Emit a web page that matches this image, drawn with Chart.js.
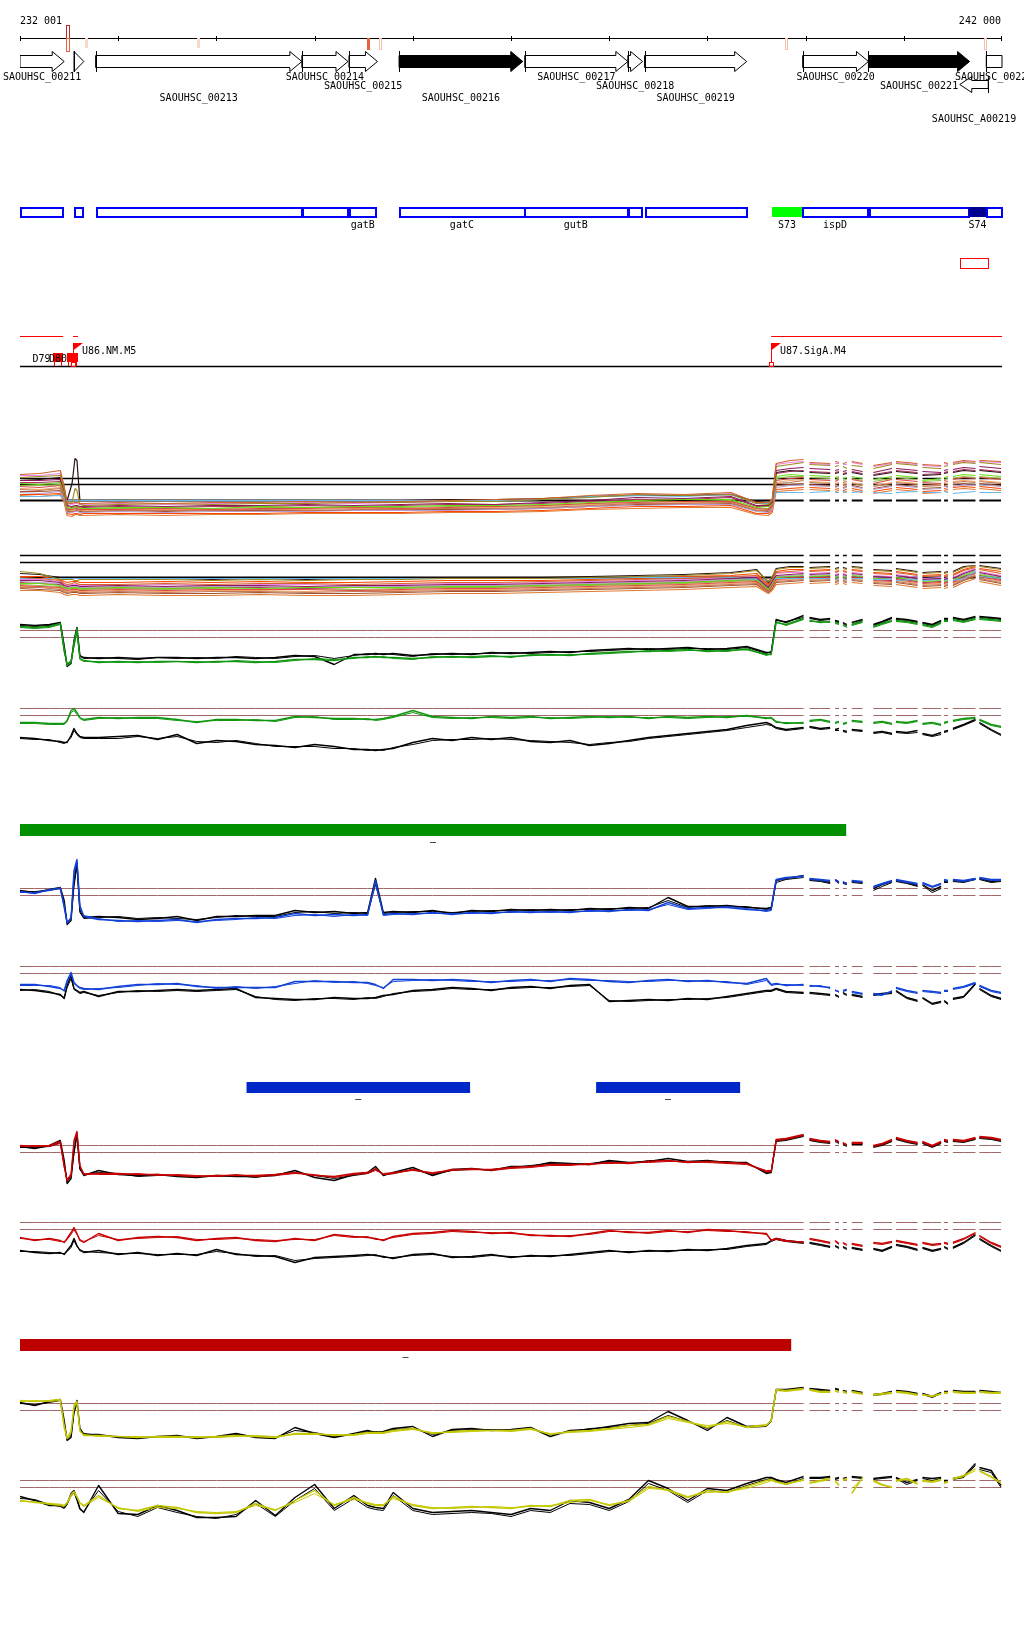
<!DOCTYPE html>
<html><head><meta charset="utf-8"><title>Genome browser tracks</title>
<script src="https://cdn.jsdelivr.net/npm/chart.js@4.4.1/dist/chart.umd.min.js"></script>
<style>
html,body{margin:0;padding:0;background:#ffffff;}
#wrap{position:relative;width:1024px;height:1640px;overflow:hidden;background:#ffffff;}
#wrap canvas{position:absolute;left:0;}
</style></head><body><div id="wrap"></div>
<script>
// ================= DATA =================
const viewStart = 232000, viewEnd = 242000;

// ruler
const rulerTicks = [232000,233000,234000,235000,236000,237000,238000,239000,240000,241000,242000];
const rulerLeftLabel = '232 001', rulerRightLabel = '242 000';
const markStarts = [232470,232660,233800,235530,235660,239790,241820];
const markEnds   = [232505,232690,233830,235560,235690,239820,241850];
const markColors = ['#e8643c','#f8d8c8','#f8d8c8','#e8643c','#f4c0b0','#f4c0b0','#f4c0b0'];
const markFilled = [false,true,true,true,false,false,false];
const markTall   = [true,false,false,false,false,false,false];

// genes
const geneNames  = ['SAOUHSC_00211','','SAOUHSC_00213','SAOUHSC_00214','SAOUHSC_00215','SAOUHSC_00216','SAOUHSC_00217','SAOUHSC_00218','SAOUHSC_00219','SAOUHSC_00220','SAOUHSC_00221','SAOUHSC_00222','SAOUHSC_A00219'];
const geneStarts = [231900,232550,232770,234870,235350,235860,237140,238190,238360,239970,240640,241840,241570];
const geneEnds   = [232450,232650,234870,235340,235640,237120,238190,238340,239400,240640,241670,242300,241860];
const geneStrand = [1,1,1,1,1,1,1,1,1,1,1,1,-1];
const geneFilled = [0,0,0,0,0,1,0,0,0,0,1,0,0];
const geneLabelRow = [0,0,2,0,1,2,0,1,2,0,1,0,3];

// feature boxes
const boxStarts = [231900,232550,232770,234870,235350,235860,237130,238190,238360,239655,239965,240645,241665,241835];
const boxEnds   = [232440,232640,234870,235340,235630,237140,238190,238330,239400,239965,240635,241665,241835,242300];
const boxFills  = ['','','','','','','','','','#00ff00','','','#000090',''];
const boxLabels = ['','','','','gatB','gatC','gutB','','','S73','ispD','','S74',''];
const redBoxStart = 241570, redBoxEnd = 241855;

// regulatory features
const redLineStarts = [232000,232540,239650];
const redLineEnds   = [232440,232590,242000];
const flagPos    = [232540,239650];
const flagLabels = ['U86.NM.M5','U87.SigA.M4'];
const termStarts = [232336,232479];
const termEnds   = [232438,232591];
const termLabelPos = [232220,232387];
const termLabels   = ['D79','D80'];

// bars
const greenBarStarts = [232000], greenBarEnds = [240410];
const blueBarStarts  = [234310,237870], blueBarEnds = [236580,239330];
const redBarStarts   = [232000], redBarEnds = [239850];
const barLabel = '\u2013';

// probe positions (bp)
const positions = [
 232000,232150,232300,232410,232450,232480,232520,232550,232580,232610,232650,
 232800,233000,233200,233400,233600,233800,234000,234200,234400,234600,
 234800,235000,235200,235400,235540,235620,235700,235800,236000,236200,
 236400,236600,236800,237000,237200,237400,237600,237800,238000,238200,
 238400,238600,238800,239000,239200,239400,239600,
 239650,239700,239800,239980,
 240040,240150,240250,240300,240340,240380,240420,240470,240580,240690,240780,240880,240920,241030,241140,241190,241290,241380,241410,241450,241500,241610,241730,241770,241890,241990
];
const multiPositions = [
 232000,232200,232410,232450,232480,232530,232560,232580,232610,232650,
 233000,233480,233960,234440,234920,235400,235880,236360,236840,237320,237800,238280,238760,239240,
 239500,239620,239660,239700,239840,239980,
 240040,240250,240300,240340,240380,240420,240470,240580,240690,240880,240920,241140,241190,241380,241410,241450,241500,241610,241730,241770,241990
];
const gaps = [[239990,240035],[240255,240295],[240345,240375],[240425,240465],[240585,240685],[240885,240915],[241145,241185],[241385,241405],[241455,241495],[241735,241765]];

// reference levels
const colorRefLevels = [10.0, 9.3];
const multiARefLevels = [10.0, 9.4, 7.8];
const multiBRefLevels = [10.0, 9.3, 7.8];

// ---- green A
const greenA_k1 = [10.6,10.5,10.6,10.8,8.5,6.4,6.7,9.0,10.3,7.5,7.3,
 7.2,7.3,7.2,7.3,7.3,7.2,7.3,7.3,7.2,7.3, 7.5,7.4,6.6,7.6,7.6,7.7,7.6,7.7,7.5,7.6, 7.7,7.6,7.8,7.7,7.8,7.9,7.8,8.0,8.1,8.2, 8.1,8.2,8.3,8.1,8.2,8.4,7.8,
 7.8,11.1,10.8,11.5,
 11.3,11.1,11.2,11.0,10.9,10.8,10.6,10.8,11.1,10.6,10.9,11.3,11.2,11.1,10.9,10.8,10.6,11.0,11.2,11.2,11.3,11.1,11.4,11.4,11.3,11.2];
const greenA_k2 = [10.5,10.4,10.5,10.7,8.0,6.6,7.0,8.5,10.0,7.4,7.2,
 7.3,7.2,7.1,7.3,7.2,7.3,7.2,7.4,7.3,7.2, 7.4,7.5,7.2,7.5,7.7,7.6,7.7,7.6,7.4,7.7, 7.6,7.7,7.7,7.8,7.7,7.8,7.9,7.9,8.0,8.1, 8.2,8.1,8.2,8.2,8.1,8.3,7.7,
 7.9,11.0,10.9,11.3,
 11.2,11.0,11.1,10.9,10.8,10.7,10.5,10.6,11.0,10.5,10.8,11.2,11.1,11.0,10.8,10.7,10.5,10.9,11.1,11.1,11.2,11.0,11.3,11.3,11.2,11.1];
const greenA_c1 = [10.4,10.3,10.4,10.7,8.2,6.5,6.8,8.8,10.2,7.2,7.0,
 6.8,6.9,6.8,6.9,6.9,6.8,6.9,6.9,6.8,6.9, 7.1,7.1,7.0,7.3,7.3,7.4,7.3,7.3,7.2,7.3, 7.4,7.3,7.4,7.4,7.5,7.6,7.5,7.7,7.8,7.9, 7.9,8.0,8.1,7.9,8.0,8.1,7.6,
 7.6,10.8,10.6,11.2,
 11.0,10.8,10.9,10.8,10.7,10.6,10.4,10.6,10.9,10.4,10.7,11.0,11.0,10.9,10.7,10.6,10.4,10.8,11.0,11.0,11.1,10.9,11.2,11.2,11.1,11.0];
const greenA_c2 = [10.3,10.2,10.3,10.6,7.8,6.7,6.9,8.4,9.9,7.1,6.9,
 6.9,6.8,6.9,6.8,6.9,6.9,6.8,7.0,6.9,6.8, 7.0,7.2,7.1,7.2,7.4,7.3,7.4,7.2,7.1,7.4, 7.3,7.4,7.5,7.3,7.6,7.5,7.6,7.6,7.7,7.8, 8.0,7.9,8.0,8.0,7.9,8.2,7.5,
 7.7,10.9,10.5,11.1,
 10.9,10.9,10.8,10.7,10.6,10.5,10.3,10.5,10.8,10.3,10.6,10.9,10.9,10.8,10.6,10.5,10.3,10.7,10.9,10.9,11.0,10.8,11.1,11.1,11.0,10.9];

// ---- green B
const greenB_c1 = [8.6,8.6,8.5,8.5,8.5,8.8,9.8,10.0,9.6,9.1,8.9,
 9.1,9.0,9.1,9.1,8.9,8.6,8.9,8.9,8.8,8.8, 9.2,9.1,9.0,9.0,8.9,8.9,9.0,9.2,9.8,9.2, 9.1,9.0,9.2,9.1,9.2,9.0,9.1,9.2,9.1,9.2, 9.0,9.2,9.1,9.2,9.1,9.3,9.0,
 9.1,8.7,8.5,8.6,
 8.8,8.9,8.7,8.6,8.7,8.5,8.6,8.8,8.7,8.6,8.7,8.5,8.7,8.6,8.8,8.5,8.6,8.4,8.6,8.7,8.8,9.0,9.1,8.9,8.4,8.2];
const greenB_c2 = [8.5,8.5,8.4,8.4,8.4,8.7,9.6,9.8,9.4,9.0,8.8,
 9.0,9.1,9.0,9.0,8.8,8.7,8.8,8.8,8.9,8.7, 9.1,9.2,8.9,8.9,9.0,8.8,8.9,9.1,9.6,9.1, 9.0,9.1,9.1,9.0,9.1,9.1,9.0,9.1,9.2,9.1, 9.1,9.1,9.0,9.1,9.2,9.2,9.1,
 9.0,8.6,8.6,8.5,
 8.7,8.8,8.6,8.5,8.6,8.4,8.5,8.7,8.6,8.5,8.6,8.4,8.6,8.5,8.7,8.4,8.5,8.3,8.5,8.6,8.7,8.9,9.0,8.8,8.3,8.1];
const greenB_k1 = [7.1,7.0,6.8,6.7,6.6,6.6,7.3,8.0,7.5,7.2,7.1,
 7.1,7.2,7.3,6.9,7.4,6.5,6.8,6.7,6.4,6.3, 6.1,6.4,6.2,5.9,5.9,5.8,5.9,6.0,6.6,7.0, 6.8,7.1,6.9,7.1,6.7,6.6,6.8,6.3,6.5,6.8, 7.1,7.3,7.5,7.7,7.9,8.3,8.6,
 8.4,8.1,7.9,8.1,
 8.2,8.0,8.1,7.9,8.0,7.8,7.7,7.9,7.8,7.6,7.7,7.5,7.7,7.6,7.8,7.5,7.3,7.6,7.7,7.8,8.0,8.4,8.9,8.6,7.9,7.4];
const greenB_k2 = [7.0,6.9,6.9,6.6,6.5,6.7,7.1,7.8,7.4,7.1,7.0,
 7.0,7.0,7.2,7.0,7.2,6.7,6.6,6.8,6.5,6.2, 6.2,6.2,6.0,6.0,5.8,5.9,5.8,6.1,6.4,6.8, 6.9,6.9,7.0,6.9,6.8,6.7,6.6,6.4,6.6,6.7, 7.0,7.2,7.4,7.6,7.8,8.1,8.4,
 8.3,8.0,7.8,8.0,
 8.1,7.9,8.0,7.8,7.8,7.7,7.6,7.8,7.7,7.5,7.6,7.4,7.6,7.5,7.6,7.4,7.2,7.4,7.6,7.7,7.9,8.3,8.8,8.5,7.8,7.3];

// ---- blue A
const blueA_k1 = [9.8,9.6,9.9,10.1,8.8,6.4,6.8,10.8,12.6,7.8,7.1,
 7.2,7.1,6.9,7.0,7.2,6.8,7.2,7.2,7.3,7.3, 7.8,7.6,7.7,7.5,7.6,11.0,7.6,7.7,7.6,7.8, 7.5,7.8,7.7,7.9,7.8,7.9,7.8,8.0,7.9,8.1, 8.0,9.1,8.2,8.2,8.3,8.1,8.0,
 8.1,10.8,11.0,11.3,
 10.9,10.8,10.6,10.9,10.6,10.6,10.5,10.7,10.6,10.0,10.4,10.7,10.8,10.6,10.3,10.4,9.8,10.2,10.7,10.7,10.8,10.7,11.0,11.0,10.7,10.8];
const blueA_k2 = [9.7,9.7,9.8,10.0,8.4,6.6,7.0,10.2,12.2,7.6,7.0,
 7.1,7.2,7.0,7.1,7.0,6.9,7.1,7.3,7.2,7.2, 7.6,7.7,7.5,7.6,7.5,10.4,7.5,7.6,7.7,7.7, 7.6,7.7,7.8,7.8,7.9,7.8,7.9,7.9,8.0,8.0, 8.1,8.8,8.1,8.3,8.2,8.2,7.9,
 8.0,10.6,10.9,11.1,
 10.8,10.7,10.5,10.8,10.5,10.5,10.4,10.6,10.5,9.8,10.2,10.6,10.7,10.5,10.2,10.3,9.6,10.0,10.6,10.6,10.7,10.6,10.9,10.9,10.6,10.7];
const blueA_c1 = [9.7,9.5,9.9,10.0,8.3,6.6,7.0,11.8,12.9,8.3,7.2,
 6.9,6.8,6.7,6.8,6.9,6.6,6.9,7.0,7.0,7.1, 7.5,7.3,7.4,7.3,7.4,10.8,7.4,7.5,7.4,7.6, 7.4,7.6,7.5,7.7,7.6,7.7,7.6,7.8,7.7,7.9, 7.8,8.6,8.0,8.1,8.1,7.9,7.8,
 7.9,10.9,11.1,11.2,
 11.0,10.9,10.8,10.9,10.7,10.7,10.5,10.8,10.7,10.2,10.5,10.8,10.9,10.7,10.5,10.6,10.2,10.5,10.9,10.8,10.9,10.8,11.0,11.1,10.9,10.9];
const blueA_c2 = [9.6,9.6,9.8,10.1,8.0,6.5,7.2,11.4,12.7,8.0,7.3,
 7.0,6.7,6.8,6.7,6.8,6.7,6.8,6.9,7.1,7.0, 7.3,7.4,7.2,7.4,7.3,10.6,7.3,7.4,7.5,7.5, 7.5,7.5,7.6,7.6,7.7,7.6,7.7,7.7,7.8,7.8, 7.9,8.4,7.9,8.0,8.2,8.0,7.7,
 7.8,10.8,11.0,11.3,
 10.9,10.8,10.7,10.8,10.6,10.6,10.4,10.7,10.6,10.1,10.4,10.7,10.8,10.6,10.4,10.5,10.1,10.4,10.8,10.7,10.8,10.7,10.9,11.0,10.8,10.8];

// ---- blue B
const blueB_c1 = [8.2,8.2,8.0,7.8,7.6,8.6,9.4,8.4,8.1,7.9,7.8,
 7.7,8.0,8.2,8.2,8.3,8.0,7.9,7.9,7.9,7.9, 8.5,8.5,8.5,8.4,8.4,8.2,7.8,8.7,8.7,8.6, 8.7,8.6,8.4,8.6,8.7,8.5,8.8,8.7,8.5,8.4, 8.6,8.7,8.5,8.6,8.4,8.3,8.8,
 8.2,8.3,8.1,8.2,
 8.1,8.0,7.9,7.6,7.5,7.6,7.7,7.5,7.3,7.3,7.2,7.5,7.9,7.6,7.4,7.6,7.5,7.4,7.6,7.6,7.8,8.0,8.4,8.1,7.6,7.4];
const blueB_c2 = [8.1,8.1,8.1,7.9,7.5,8.4,9.2,8.3,8.0,7.8,7.7,
 7.8,7.9,8.1,8.3,8.2,8.1,7.8,8.0,7.8,8.0, 8.3,8.6,8.4,8.5,8.3,8.1,7.9,8.5,8.6,8.7, 8.6,8.5,8.5,8.5,8.6,8.6,8.7,8.6,8.6,8.5, 8.5,8.6,8.6,8.5,8.5,8.2,8.6,
 8.1,8.2,8.2,8.1,
 8.0,8.1,7.8,7.7,7.4,7.5,7.6,7.4,7.2,7.2,7.1,7.6,7.8,7.5,7.3,7.5,7.4,7.3,7.5,7.5,7.7,7.9,8.3,8.0,7.5,7.3];
const blueB_k1 = [7.7,7.6,7.4,7.2,6.8,8.1,9.1,7.8,7.6,7.4,7.5,
 7.0,7.5,7.5,7.6,7.7,7.6,7.7,7.8,6.9,6.8, 6.7,6.7,6.9,6.8,6.8,6.9,7.1,7.2,7.6,7.7, 7.9,7.8,7.6,7.9,8.0,7.8,8.1,8.2,6.5,6.6, 6.7,6.6,6.8,6.7,7.0,7.3,7.6,
 7.6,7.8,7.5,7.4,
 7.4,7.3,7.2,7.2,7.0,7.4,7.2,7.2,7.0,7.2,7.3,7.4,7.6,6.9,6.6,6.9,6.3,6.5,6.6,6.3,6.8,7.0,8.3,7.8,7.1,6.8];
const blueB_k2 = [7.6,7.7,7.5,7.1,6.9,7.9,8.8,7.7,7.5,7.3,7.4,
 7.1,7.4,7.6,7.5,7.6,7.5,7.6,7.7,7.0,6.7, 6.6,6.8,6.8,6.7,6.9,6.8,7.0,7.3,7.5,7.6, 7.8,7.7,7.7,7.8,7.9,7.9,8.0,8.1,6.6,6.5, 6.6,6.7,6.7,6.8,6.9,7.2,7.5,
 7.5,7.7,7.4,7.3,
 7.3,7.2,7.1,7.1,6.9,7.3,7.1,7.1,6.9,7.1,7.2,7.3,7.5,6.8,6.5,6.8,6.2,6.4,6.5,6.2,6.7,6.9,8.2,7.7,7.0,6.7];

// ---- red A
const redA_k1 = [9.9,9.7,10.0,10.5,8.5,6.2,6.7,9.5,11.2,7.7,7.0,
 7.5,7.1,7.0,7.1,6.9,6.8,7.0,6.9,6.9,7.0, 7.5,6.8,6.5,7.1,7.3,7.9,7.0,7.3,7.8,7.0, 7.6,7.7,7.5,7.9,7.9,8.3,8.2,8.1,8.5,8.3, 8.4,8.7,8.4,8.5,8.3,8.3,7.2,
 7.3,10.5,10.6,11.0,
 10.6,10.4,10.3,10.5,10.3,10.2,10.0,10.2,10.2,9.9,10.1,10.5,10.7,10.4,10.2,10.3,9.9,10.3,10.5,10.4,10.5,10.4,10.7,10.8,10.7,10.5];
const redA_k2 = [9.8,9.8,9.9,10.3,8.2,6.4,6.9,9.2,10.9,7.6,7.1,
 7.3,7.2,6.9,7.0,7.0,6.9,6.9,7.0,6.8,7.1, 7.3,7.0,6.7,7.0,7.2,7.6,7.1,7.2,7.6,7.1, 7.5,7.6,7.6,7.8,8.0,8.2,8.1,8.2,8.4,8.2, 8.5,8.5,8.3,8.4,8.4,8.2,7.3,
 7.4,10.4,10.5,10.9,
 10.5,10.3,10.2,10.4,10.2,10.1,9.9,10.1,10.1,9.8,10.0,10.4,10.6,10.3,10.1,10.2,9.8,10.2,10.4,10.3,10.4,10.3,10.6,10.7,10.6,10.4];
const redA_c1 = [10.0,9.9,10.0,10.4,8.0,6.5,7.0,10.5,11.4,8.0,7.1,
 7.2,7.2,7.1,7.1,7.0,6.9,7.0,7.0,7.0,7.1, 7.3,7.0,6.9,7.2,7.3,7.7,7.1,7.2,7.6,7.2, 7.6,7.6,7.6,7.8,7.9,8.1,8.1,8.1,8.3,8.2, 8.4,8.5,8.3,8.4,8.3,8.2,7.4,
 7.4,10.6,10.7,11.1,
 10.7,10.5,10.4,10.6,10.4,10.3,10.1,10.3,10.3,10.0,10.2,10.6,10.8,10.5,10.3,10.4,10.0,10.4,10.6,10.5,10.6,10.5,10.8,10.9,10.8,10.6];
const redA_c2 = [9.9,10.0,9.9,10.2,7.8,6.6,7.2,10.2,11.2,7.9,7.2,
 7.1,7.1,7.2,7.0,7.1,7.0,6.9,7.1,6.9,7.0, 7.2,7.1,6.8,7.1,7.2,7.5,7.2,7.3,7.5,7.3, 7.5,7.7,7.5,7.7,7.8,8.0,8.0,8.2,8.2,8.3, 8.3,8.4,8.4,8.3,8.2,8.1,7.5,
 7.5,10.5,10.6,11.0,
 10.6,10.4,10.3,10.5,10.3,10.2,10.0,10.2,10.2,9.9,10.1,10.5,10.7,10.4,10.2,10.3,9.9,10.3,10.5,10.4,10.5,10.4,10.7,10.8,10.7,10.5];

// ---- red B
const redB_c1 = [8.5,8.2,8.4,8.2,8.0,8.4,9.0,9.5,8.9,8.2,8.0,
 8.9,8.2,8.5,8.6,8.5,8.2,8.4,8.5,8.2,8.1, 8.4,8.2,8.8,8.6,8.5,8.4,8.2,8.6,8.9,9.0, 9.2,9.1,8.9,9.0,8.7,8.7,8.6,8.9,9.2,9.0, 9.0,9.2,9.0,9.3,9.2,9.0,8.9,
 8.2,8.4,8.2,8.0,
 8.4,8.2,8.0,8.2,7.9,8.0,7.8,7.9,7.7,8.0,7.9,8.1,8.2,8.0,7.8,8.0,7.8,7.9,8.0,7.9,8.0,8.4,9.0,8.7,8.0,7.6];
const redB_c2 = [8.4,8.3,8.3,8.1,8.1,8.3,8.8,9.3,8.8,8.3,8.1,
 8.7,8.3,8.4,8.5,8.6,8.3,8.3,8.4,8.3,8.2, 8.3,8.3,8.7,8.5,8.6,8.3,8.3,8.5,8.8,8.9, 9.1,9.0,9.0,8.9,8.8,8.6,8.7,8.8,9.1,9.1, 8.9,9.1,9.1,9.2,9.1,9.1,8.8,
 8.3,8.3,8.1,8.1,
 8.3,8.1,7.9,8.1,7.8,7.9,7.7,7.8,7.6,7.9,7.8,8.0,8.1,7.9,7.7,7.9,7.7,7.8,7.9,7.8,7.9,8.3,8.9,8.6,7.9,7.5];
const redB_k1 = [7.2,7.0,6.9,7.0,6.8,7.2,7.7,8.4,7.7,7.2,7.0,
 7.2,6.8,7.0,6.7,6.9,6.7,7.3,6.8,6.7,6.6, 6.0,6.5,6.6,6.7,6.8,6.7,6.6,6.4,6.8,6.9, 6.5,6.6,6.8,6.5,6.7,6.6,6.8,7.0,7.2,7.0, 7.2,7.1,7.3,7.2,7.4,7.7,7.9,
 8.2,8.4,8.2,8.0,
 8.0,7.8,7.6,7.7,7.5,7.6,7.4,7.5,7.3,7.4,7.2,7.6,7.8,7.6,7.3,7.5,7.2,7.4,7.6,7.4,7.5,8.0,8.8,8.4,7.7,7.2];
const redB_k2 = [7.1,7.1,7.0,6.9,6.9,7.1,7.5,8.2,7.6,7.3,7.1,
 7.0,6.9,6.9,6.8,6.8,6.8,7.1,6.9,6.6,6.7, 6.2,6.4,6.5,6.6,6.7,6.8,6.5,6.5,6.7,6.8, 6.6,6.5,6.7,6.6,6.6,6.7,6.7,6.9,7.1,7.1, 7.1,7.2,7.2,7.3,7.3,7.6,7.8,
 8.1,8.3,8.1,7.9,
 7.9,7.7,7.5,7.6,7.4,7.5,7.3,7.4,7.2,7.3,7.1,7.5,7.7,7.5,7.2,7.4,7.1,7.3,7.5,7.3,7.4,7.9,8.7,8.3,7.6,7.1];

// ---- yellow A
const yellowA_k1 = [10.1,9.8,10.2,10.4,8.3,6.3,6.6,9.3,10.3,7.5,6.9,
 6.9,6.6,6.5,6.7,6.8,6.5,6.7,7.0,6.6,6.5, 7.6,7.0,6.6,7.0,7.3,7.1,7.2,7.5,7.7,6.7, 7.4,7.5,7.3,7.4,7.6,6.7,7.3,7.4,7.7,8.0, 8.1,9.2,8.3,7.3,8.6,7.7,7.8,
 8.3,11.4,11.4,11.6,
 11.5,11.4,11.3,11.5,11.4,11.3,11.2,11.3,11.1,10.9,11.0,11.2,11.3,11.2,11.0,11.0,10.7,11.1,11.2,11.2,11.3,11.2,11.2,11.3,11.2,11.1];
const yellowA_k2 = [10.0,9.9,10.1,10.3,8.0,6.4,6.8,9.0,10.0,7.4,7.0,
 6.8,6.7,6.6,6.6,6.7,6.6,6.6,6.9,6.7,6.6, 7.3,7.1,6.7,6.9,7.2,7.2,7.1,7.4,7.5,6.9, 7.3,7.4,7.4,7.3,7.5,6.9,7.2,7.5,7.6,7.8, 8.0,8.8,8.2,7.5,8.3,7.6,7.7,
 8.2,11.3,11.3,11.5,
 11.4,11.3,11.2,11.4,11.3,11.2,11.1,11.2,11.0,10.8,10.9,11.1,11.2,11.1,10.9,10.9,10.6,11.0,11.1,11.1,11.2,11.1,11.1,11.2,11.1,11.0];
const yellowA_c1 = [10.3,10.2,10.3,10.4,7.8,6.5,7.1,9.8,10.2,7.3,6.8,
 6.8,6.7,6.6,6.7,6.7,6.6,6.7,6.8,6.7,6.6, 7.0,7.0,6.8,6.9,7.1,7.1,7.1,7.3,7.5,7.0, 7.2,7.3,7.3,7.3,7.5,6.9,7.2,7.3,7.5,7.8, 7.9,8.7,8.2,7.6,8.2,7.6,7.8,
 8.3,11.4,11.3,11.5,
 11.4,11.2,11.2,11.3,11.2,11.2,11.1,11.2,11.0,10.9,11.0,11.1,11.2,11.1,10.9,10.9,10.7,11.0,11.1,11.1,11.2,11.1,11.1,11.2,11.1,11.1];
const yellowA_c2 = [10.2,10.3,10.2,10.3,7.5,6.6,7.3,9.5,10.1,7.2,6.9,
 6.7,6.7,6.7,6.6,6.6,6.7,6.6,6.7,6.8,6.7, 6.9,6.9,6.9,6.8,7.0,7.0,7.0,7.2,7.4,7.1, 7.1,7.2,7.3,7.2,7.4,7.0,7.1,7.2,7.4,7.6, 7.8,8.5,8.1,7.8,8.0,7.7,7.9,
 8.2,11.3,11.2,11.4,
 11.3,11.1,11.1,11.2,11.1,11.1,11.0,11.1,10.9,10.8,10.9,11.0,11.1,11.0,10.8,10.8,10.8,10.9,11.0,11.0,11.1,11.0,11.0,11.1,11.0,11.0];

// ---- yellow B
const yellowB_k1 = [8.4,8.0,7.5,7.5,7.3,7.7,8.7,9.0,8.2,7.2,6.8,
 9.5,6.7,6.6,7.5,7.0,6.3,6.3,6.4,8.0,6.5, 8.3,9.6,7.2,8.5,7.5,7.3,7.2,8.8,7.2,6.8, 6.9,7.0,6.8,6.6,7.2,7.0,8.0,7.8,7.2,8.1, 10.0,9.2,8.0,9.2,9.0,9.7,10.3,
 10.3,10.1,9.8,10.4,
 10.3,10.3,10.4,10.2,10.3,10.2,10.3,10.4,10.3,10.2,10.3,10.4,10.3,9.8,10.1,10.3,10.2,10.3,10.0,10.0,10.2,10.4,11.7,11.3,11.0,9.5];
const yellowB_k2 = [8.2,8.1,7.6,7.4,7.2,7.6,8.5,8.8,8.0,7.1,6.9,
 9.0,6.9,6.4,7.3,6.8,6.4,6.2,6.6,7.7,6.4, 8.0,9.2,7.0,8.2,7.3,7.1,7.0,8.5,7.0,6.6, 6.7,6.8,6.7,6.4,7.0,6.8,7.7,7.6,7.0,7.9, 9.7,9.0,7.8,9.0,8.8,9.5,10.1,
 10.2,10.0,9.6,10.2,
 10.2,10.2,10.3,10.1,10.2,10.1,10.2,10.3,10.2,10.1,10.2,10.3,10.2,9.6,10.0,10.2,10.0,10.2,9.9,9.9,10.1,10.3,11.5,11.1,10.8,9.3];
const yellowB_c1 = [8.0,7.8,7.7,7.6,7.5,7.8,8.6,8.9,8.4,7.8,7.5,
 8.5,7.2,7.0,7.5,7.3,6.8,6.7,6.8,7.7,7.0, 8.0,9.0,7.5,8.3,7.7,7.5,7.5,8.4,7.5,7.2, 7.3,7.4,7.3,7.2,7.5,7.4,8.0,8.1,7.5,8.0, 9.4,9.0,8.3,9.0,8.8,9.4,10.0,
 10.1,9.9,9.6,10.1,
 9.8,10.0,10.2,10.0,9.5,10.1,10.2,8.7,10.3,10.0,9.6,9.3,10.0,10.2,9.7,10.0,9.9,10.1,9.8,9.9,10.2,10.5,11.2,11.0,10.4,9.8];
const yellowB_c2 = [7.9,7.9,7.6,7.5,7.4,7.7,8.4,8.7,8.3,7.7,7.4,
 8.3,7.3,6.9,7.3,7.2,6.9,6.8,6.9,7.5,7.1, 7.8,8.7,7.6,8.1,7.8,7.6,7.6,8.2,7.6,7.3, 7.2,7.3,7.4,7.3,7.4,7.5,7.8,8.0,7.6,7.9, 9.2,9.1,8.4,8.8,8.9,9.2,9.8,
 10.0,9.8,9.7,10.0,
 9.7,9.9,10.1,9.9,9.6,10.0,10.1,9.2,10.2,9.9,9.5,9.4,9.9,10.1,9.6,9.9,9.8,10.0,9.7,9.8,10.1,10.4,11.0,10.9,10.3,9.7];

// ---- multi-condition track A (16 conditions)
const multiAColors = ['#d2642a','#9c8a1c','#8c1a5a','#66b8ee','#66dd11','#e04848','#c07858','#b49ccf','#2a1010','#e07a30','#ee82ee','#b03060','#8fbc3f','#f4a460','#a0522d','#ff4500'];
const multiA_s0 = [10.4,10.5,10.8,9.2,7.6,7.5,7.6,7.6,7.5,7.5, 7.6,7.5,7.6,7.6,7.7,7.6,7.7,7.8,7.9,8.0,8.3,8.5,8.4,8.6, 7.6,7.6,7.9,11.5,11.8,11.9, 11.6,11.5,11.7,11.6,11.5,11.6,11.7,11.5,11.3,11.6,11.7,11.5,11.4,11.3,11.6,11.5,11.6,11.8,11.7,11.8,11.7];
const multiA_s1 = [10.1,10.2,10.3,9.0,7.4,7.6,9.0,8.8,7.4,7.3, 7.4,7.5,7.4,7.5,7.5,7.6,7.6,7.7,7.7,7.9,8.1,8.4,8.3,8.4, 7.5,7.4,7.8,11.2,11.4,11.6, 11.4,11.3,11.2,11.3,11.2,11.0,11.3,11.2,11.0,11.4,11.5,11.3,11.1,11.0,11.2,11.3,11.4,11.6,11.5,11.6,11.4];
const multiA_s2 = [9.8,9.8,9.9,8.8,7.3,7.2,7.3,7.3,7.2,7.2, 7.3,7.2,7.3,7.3,7.4,7.3,7.4,7.5,7.4,7.6,7.8,8.1,8.0,8.2, 7.3,7.3,7.6,10.8,11.0,11.1, 11.0,10.9,10.8,10.9,10.7,10.8,10.9,10.7,10.6,11.0,11.0,10.8,10.7,10.6,10.8,10.9,10.9,11.1,11.0,11.2,11.0];
const multiA_s3 = [8.2,8.2,8.3,8.0,7.8,7.8,7.8,7.8,7.8,7.8, 7.8,7.8,7.8,7.8,7.8,7.8,7.8,7.8,7.8,7.9,8.2,8.3,8.2,8.4, 7.5,7.5,7.8,8.6,8.6,8.6, 8.6,8.7,8.6,8.6,8.7,8.6,8.6,8.7,8.6,8.5,8.6,8.7,8.6,8.6,8.7,8.6,8.5,8.6,8.7,8.6,8.6];
const multiA_s4 = [9.5,9.4,9.6,8.6,7.1,7.0,7.2,7.3,7.1,7.0, 7.1,7.1,7.0,7.2,7.1,7.2,7.2,7.3,7.3,7.4,7.6,7.8,7.9,7.9, 7.1,7.2,7.5,10.2,10.4,10.3, 10.3,10.2,10.1,10.2,10.0,10.1,10.2,10.0,9.9,10.2,10.3,10.1,9.8,10.0,10.1,10.2,10.2,10.4,10.3,10.4,10.2];
const multiA_s5 = [9.2,9.1,9.3,8.4,6.9,6.9,7.0,7.0,6.9,6.9, 6.9,7.0,6.9,7.0,7.0,7.1,7.0,7.1,7.2,7.3,7.5,7.6,7.7,7.7, 7.0,6.9,7.3,9.8,10.0,10.1, 9.9,9.8,9.7,9.9,9.6,9.7,9.9,9.7,9.5,9.9,9.9,9.7,9.6,9.5,9.8,9.7,9.9,10.1,10.0,10.1,9.9];
const multiA_s6 = [8.9,8.8,9.0,8.2,6.8,6.7,6.8,6.9,6.8,6.7, 6.8,6.8,6.8,6.9,6.8,6.9,6.9,7.0,7.0,7.1,7.3,7.5,7.5,7.6, 6.8,6.8,7.2,9.5,9.6,9.8, 9.6,9.5,9.4,9.5,9.3,9.4,9.5,9.3,9.2,9.5,9.6,9.4,9.2,9.3,9.5,9.4,9.6,9.7,9.6,9.7,9.5];
const multiA_s7 = [8.6,8.5,8.7,8.0,6.6,6.6,6.7,6.7,6.6,6.6, 6.7,6.6,6.7,6.7,6.7,6.8,6.8,6.8,6.9,7.0,7.2,7.3,7.4,7.4, 6.7,6.6,7.0,9.1,9.3,9.4, 9.3,9.2,9.1,9.2,9.0,9.1,9.2,9.0,8.9,9.2,9.3,9.1,8.9,9.0,9.2,9.1,9.2,9.4,9.3,9.4,9.2];
const multiA_s8 = [10.0,9.9,10.1,8.0,7.8,9.5,12.0,11.8,7.8,7.8, 7.8,7.8,7.8,7.8,7.8,7.8,7.8,7.9,7.9,8.0,8.2,8.3,8.3,8.4, 7.7,7.6,7.8,10.6,10.8,10.7, 10.6,10.5,10.5,10.6,10.4,10.5,10.6,10.4,10.3,10.6,10.7,10.5,10.3,10.4,10.5,10.6,10.6,10.8,10.7,10.8,10.6];
const multiA_s9 = [8.3,8.2,8.4,7.6,6.3,6.2,6.4,6.4,6.3,6.3, 6.4,6.3,6.4,6.4,6.5,6.5,6.5,6.6,6.6,6.7,6.9,7.0,7.1,7.1, 6.4,6.3,6.6,8.7,8.8,8.9, 8.9,8.8,8.7,8.8,8.6,8.7,8.8,8.6,8.5,8.8,8.9,8.7,8.5,8.6,8.8,8.7,8.9,9.0,8.9,9.0,8.8];
const multiA_s10 = [10.3,10.3,10.5,9.1,7.5,7.4,7.5,7.5,7.4,7.4, 7.5,7.4,7.5,7.5,7.6,7.5,7.6,7.7,7.8,7.9,8.2,8.4,8.3,8.5, 7.5,7.5,7.8,11.4,11.6,11.7, 11.5,11.4,11.5,11.5,11.4,11.4,11.6,11.4,11.2,11.5,11.6,11.4,11.3,11.2,11.5,11.4,11.5,11.7,11.6,11.7,11.6];
const multiA_s11 = [9.6,9.6,9.7,8.7,7.2,7.1,7.2,7.2,7.1,7.1, 7.2,7.1,7.2,7.2,7.3,7.2,7.3,7.4,7.4,7.5,7.7,7.9,7.9,8.1, 7.2,7.2,7.5,10.5,10.7,10.8, 10.7,10.6,10.6,10.7,10.5,10.6,10.7,10.5,10.4,10.7,10.8,10.6,10.4,10.5,10.6,10.7,10.7,10.9,10.8,10.9,10.7];
const multiA_s12 = [9.3,9.3,9.4,8.5,7.0,7.0,7.1,7.1,7.0,7.0, 7.0,7.0,7.0,7.1,7.1,7.1,7.1,7.2,7.2,7.3,7.5,7.7,7.7,7.8, 7.0,7.0,7.4,10.0,10.2,10.2, 10.1,10.0,9.9,10.0,9.8,9.9,10.0,9.8,9.7,10.0,10.1,9.9,9.7,9.8,9.9,10.0,10.0,10.2,10.1,10.2,10.0];
const multiA_s13 = [9.0,8.9,9.1,8.3,6.8,6.8,6.9,6.9,6.8,6.8, 6.9,6.9,6.9,6.9,6.9,7.0,7.0,7.0,7.1,7.2,7.4,7.5,7.6,7.6, 6.9,6.8,7.2,9.6,9.8,9.9, 9.7,9.6,9.5,9.6,9.4,9.5,9.6,9.4,9.3,9.6,9.7,9.5,9.3,9.4,9.6,9.5,9.7,9.8,9.7,9.8,9.6];
const multiA_s14 = [8.7,8.7,8.8,8.1,6.7,6.7,6.7,6.8,6.7,6.7, 6.8,6.7,6.8,6.8,6.8,6.8,6.9,6.9,6.9,7.0,7.2,7.4,7.4,7.5, 6.8,6.7,7.1,9.3,9.4,9.5, 9.4,9.3,9.2,9.3,9.1,9.2,9.3,9.1,9.0,9.3,9.4,9.2,9.0,9.1,9.3,9.2,9.4,9.5,9.4,9.5,9.3];
const multiA_s15 = [8.4,8.4,8.5,7.8,6.5,6.4,6.5,6.5,6.4,6.5, 6.5,6.5,6.5,6.5,6.6,6.6,6.6,6.7,6.7,6.8,7.0,7.2,7.2,7.3, 6.5,6.5,6.8,8.9,9.0,9.1, 9.1,9.0,8.9,9.0,8.8,8.9,9.0,8.8,8.7,9.0,9.1,8.9,8.7,8.8,9.0,8.9,9.1,9.2,9.1,9.2,9.0];

// ---- multi-condition track B (16 conditions)
const multiBColors = ['#9c8a1c','#d2642a','#8c1a5a','#66b8ee','#66dd11','#e04848','#c07858','#b49ccf','#2a1010','#e07a30','#ee82ee','#b03060','#8fbc3f','#f4a460','#a0522d','#ff4500'];
const multiB_s0 = [8.4,8.2,7.6,7.6,7.6,7.6,7.5,7.5,7.6,7.6, 7.6,7.6,7.5,7.6,7.5,7.6,7.6,7.7,7.7,7.7,7.8,7.9,8.0,8.2, 8.5,7.4,7.9,8.6,8.8,8.8, 8.7,8.8,8.6,8.7,8.7,8.6,8.8,8.7,8.5,8.4,8.6,8.3,8.2,8.3,8.2,8.3,8.3,8.8,9.0,8.9,8.6];
const multiB_s1 = [7.8,7.7,7.5,7.2,7.1,7.2,7.3,7.2,7.1,7.1, 7.1,7.2,7.1,7.2,7.2,7.1,7.2,7.3,7.3,7.4,7.5,7.6,7.7,7.9, 8.0,7.0,7.6,8.3,8.4,8.5, 8.4,8.5,8.3,8.4,8.4,8.3,8.5,8.4,8.2,8.1,8.3,8.0,7.9,8.0,7.9,8.0,8.0,8.5,8.8,8.6,8.2];
const multiB_s2 = [7.5,7.5,7.3,7.0,6.9,7.0,7.0,7.0,6.9,6.9, 7.0,6.9,7.0,7.0,6.9,7.0,7.0,7.1,7.1,7.2,7.3,7.4,7.5,7.7, 7.8,6.8,7.4,8.0,8.1,8.2, 8.1,8.2,8.0,8.1,8.1,8.0,8.2,8.1,7.9,7.8,8.0,7.7,7.6,7.7,7.6,7.7,7.7,8.2,8.6,8.3,7.9];
const multiB_s3 = [7.7,7.7,7.7,7.7,7.7,7.7,7.7,7.7,7.7,7.7, 7.7,7.7,7.7,7.7,7.7,7.7,7.7,7.7,7.7,7.7,7.7,7.8,7.8,7.8, 7.6,7.5,7.6,7.7,7.7,7.7, 7.7,7.7,7.6,7.7,7.7,7.6,7.7,7.7,7.6,7.6,7.5,7.6,7.5,7.6,7.5,7.6,7.5,7.7,8.4,7.9,7.7];
const multiB_s4 = [7.2,7.2,7.0,6.8,6.7,6.8,6.8,6.8,6.7,6.7, 6.8,6.7,6.8,6.7,6.8,6.8,6.8,6.9,6.9,7.0,7.1,7.2,7.3,7.5, 7.6,6.6,7.2,7.8,7.9,8.0, 7.9,8.0,7.8,7.9,7.9,7.8,8.0,7.9,7.7,7.6,7.8,7.5,7.4,7.5,7.4,7.5,7.5,8.0,8.4,8.1,7.7];
const multiB_s5 = [7.0,6.9,6.8,6.6,6.5,6.6,6.6,6.6,6.5,6.5, 6.6,6.5,6.6,6.6,6.6,6.5,6.6,6.7,6.7,6.8,6.9,7.0,7.1,7.3, 7.4,6.5,7.0,7.6,7.7,7.8, 7.7,7.8,7.6,7.7,7.7,7.6,7.8,7.7,7.5,7.4,7.6,7.3,7.2,7.3,7.2,7.3,7.3,7.8,8.2,7.9,7.5];
const multiB_s6 = [6.8,6.8,6.6,6.4,6.3,6.4,6.4,6.4,6.3,6.3, 6.4,6.3,6.4,6.4,6.3,6.4,6.4,6.5,6.5,6.6,6.7,6.8,6.9,7.1, 7.2,6.4,6.8,7.4,7.5,7.6, 7.5,7.6,7.4,7.5,7.5,7.4,7.6,7.5,7.3,7.2,7.4,7.1,7.0,7.1,7.0,7.1,7.1,7.6,8.0,7.7,7.3];
const multiB_s7 = [7.4,7.3,7.2,6.9,6.8,6.9,6.9,6.9,6.8,6.8, 6.9,6.8,6.9,6.9,6.8,6.9,6.9,7.0,7.0,7.1,7.2,7.3,7.4,7.6, 7.7,6.7,7.3,7.9,8.0,8.1, 8.0,8.1,7.9,8.0,8.0,7.9,8.1,8.0,7.8,7.7,7.9,7.6,7.5,7.6,7.5,7.6,7.6,8.1,8.5,8.2,7.8];
const multiB_s8 = [8.2,8.1,7.8,7.7,7.7,7.7,7.8,7.8,7.7,7.7, 7.7,7.7,7.6,7.7,7.6,7.7,7.7,7.8,7.8,7.8,7.9,8.0,8.1,8.3, 8.6,7.3,7.8,8.7,8.9,8.9, 8.8,8.9,8.7,8.8,8.8,8.7,8.9,8.8,8.6,8.5,8.7,8.4,8.3,8.4,8.3,8.4,8.4,8.9,9.0,9.0,8.7];
const multiB_s9 = [6.5,6.5,6.3,6.1,6.0,6.1,6.1,6.1,6.0,6.0, 6.1,6.0,6.0,6.1,6.0,6.0,6.1,6.2,6.2,6.3,6.4,6.5,6.6,6.8, 6.9,6.2,6.5,7.1,7.2,7.3, 7.2,7.3,7.1,7.2,7.2,7.1,7.3,7.2,7.0,6.9,7.1,6.8,6.7,6.8,6.7,6.8,6.8,7.3,7.7,7.4,7.0];
const multiB_s10 = [7.6,7.6,7.4,7.1,7.0,7.1,7.1,7.1,7.0,7.0, 7.0,7.1,7.0,7.1,7.1,7.0,7.1,7.2,7.2,7.3,7.4,7.5,7.6,7.8, 7.9,6.9,7.5,8.2,8.3,8.3, 8.2,8.3,8.1,8.2,8.2,8.1,8.3,8.2,8.0,7.9,8.1,7.8,7.7,7.8,7.7,7.8,7.8,8.3,8.7,8.4,8.0];
const multiB_s11 = [7.3,7.2,7.1,6.8,6.7,6.8,6.8,6.8,6.7,6.7, 6.8,6.7,6.8,6.8,6.7,6.8,6.8,6.9,6.9,7.0,7.1,7.2,7.3,7.5, 7.6,6.6,7.1,7.8,7.8,7.9, 7.8,7.9,7.7,7.8,7.8,7.7,7.9,7.8,7.6,7.5,7.7,7.4,7.3,7.4,7.3,7.4,7.4,7.9,8.3,8.0,7.6];
const multiB_s12 = [7.1,7.0,6.9,6.7,6.6,6.7,6.7,6.7,6.6,6.6, 6.7,6.6,6.7,6.6,6.7,6.6,6.7,6.8,6.8,6.9,7.0,7.1,7.2,7.4, 7.5,6.6,7.1,7.7,7.8,7.9, 7.8,7.9,7.7,7.8,7.8,7.7,7.9,7.8,7.6,7.5,7.7,7.4,7.3,7.4,7.3,7.4,7.4,7.9,8.3,8.0,7.6];
const multiB_s13 = [6.9,6.9,6.7,6.5,6.4,6.5,6.5,6.5,6.4,6.4, 6.5,6.4,6.5,6.5,6.4,6.5,6.5,6.6,6.6,6.7,6.8,6.9,7.0,7.2, 7.3,6.4,6.9,7.5,7.6,7.7, 7.6,7.7,7.5,7.6,7.6,7.5,7.7,7.6,7.4,7.3,7.5,7.2,7.1,7.2,7.1,7.2,7.2,7.7,8.1,7.8,7.4];
const multiB_s14 = [6.7,6.6,6.5,6.3,6.2,6.3,6.3,6.3,6.2,6.2, 6.3,6.2,6.2,6.3,6.2,6.2,6.3,6.4,6.4,6.5,6.6,6.7,6.8,7.0, 7.1,6.3,6.7,7.3,7.4,7.5, 7.4,7.5,7.3,7.4,7.4,7.3,7.5,7.4,7.2,7.1,7.3,7.0,6.9,7.0,6.9,7.0,7.0,7.5,7.9,7.6,7.2];
const multiB_s15 = [7.9,7.9,7.6,7.4,7.3,7.4,7.4,7.4,7.3,7.3, 7.3,7.4,7.3,7.4,7.3,7.3,7.4,7.5,7.5,7.5,7.6,7.7,7.9,8.0, 8.2,7.1,7.7,8.4,8.6,8.6, 8.5,8.6,8.4,8.5,8.5,8.4,8.6,8.5,8.3,8.2,8.4,8.1,8.0,8.1,8.0,8.1,8.1,8.6,8.9,8.7,8.4];

// ================= LAYOUT / STYLE =================
const COL = {black:'#000000', green:'#109610', blue:'#1040d8', red:'#c80000', yellow:'#c4c800', ref:'#a06868'};
const FONT = '10px "DejaVu Sans Mono", "Liberation Mono", monospace';
const LAY = {
  rulerY:38, tickTop:36, tickBot:41, rulerLabelBase:24,
  fwd:{tickTop:51,tickBot:72,bodyTop:55,bodyBot:68,headTop:51,headBot:72,head:12},
  rev:{tickTop:76,tickBot:93,bodyTop:80,bodyBot:89,headTop:76,headBot:93,head:12},
  geneLabelBase:[80,89,101,122],
  boxTop:207, boxBot:217, boxLabelBase:228,
  redBoxTop:258, redBoxBot:268,
  redLineY:336, baseY:366,
  flagTop:343, flagTriH:7.5, flagTriW:10, flagLabelBase:354, flagPoleBot:362,
  termTop:353, termBot:362, termLabelBase:362
};

Chart.defaults.font.family = '"DejaVu Sans Mono", monospace';
const wrap = document.getElementById('wrap');
function mkCanvas(top, h){
  const c = document.createElement('canvas');
  c.width = 1024; c.height = h;
  c.style.top = top + 'px'; c.style.width = '1024px'; c.style.height = h + 'px';
  wrap.appendChild(c); return c;
}
function baseOptions(yMin, yMax, padBottom){
  return {
    responsive:false, animation:false, devicePixelRatio:1, events:[],
    layout:{padding:{left:20, right:22, top:0, bottom:padBottom||0}},
    plugins:{legend:{display:false}, tooltip:{enabled:false}},
    elements:{point:{radius:0, hoverRadius:0}, line:{tension:0, borderCapStyle:'butt', borderJoinStyle:'round'}},
    scales:{
      x:{type:'linear', min:viewStart, max:viewEnd, display:false},
      y:{type:'linear', min:yMin, max:yMax, display:false}
    }
  };
}
function toPoints(pos, vals){
  const out = [];
  for (let i = 0; i < pos.length; i++){
    if (i > 0){
      for (const g of gaps){
        if (pos[i-1] <= g[0] && pos[i] >= g[1]) out.push({x:(g[0]+g[1])/2, y:null});
      }
    }
    out.push({x:pos[i], y:vals[i]});
  }
  return out;
}

// ================= ANNOTATION CHART =================
const annotPlugin = {
  id:'annot',
  afterDraw(chart){
    const ctx = chart.ctx, xs = chart.scales.x;
    const X = v => xs.getPixelForValue(v);
    const L = xs.left, R = xs.right;
    const px = v => Math.round(v) + 0.5;
    ctx.save();
    ctx.font = FONT; ctx.textBaseline = 'alphabetic';
    ctx.strokeStyle = '#000'; ctx.lineWidth = 1;
    ctx.beginPath(); ctx.moveTo(L, LAY.rulerY + 0.5); ctx.lineTo(R, LAY.rulerY + 0.5); ctx.stroke();
    rulerTicks.forEach(t => { const x = px(Math.min(X(t), R - 1)); ctx.beginPath(); ctx.moveTo(x, LAY.tickTop); ctx.lineTo(x, LAY.tickBot); ctx.stroke(); });
    ctx.fillStyle = '#000';
    ctx.textAlign = 'left'; ctx.fillText(rulerLeftLabel, L, LAY.rulerLabelBase);
    ctx.textAlign = 'right'; ctx.fillText(rulerRightLabel, R - 1, LAY.rulerLabelBase);
    markStarts.forEach((s, i) => {
      const x1 = Math.round(X(s)), x2 = Math.round(X(markEnds[i]));
      if (markTall[i]){
        ctx.lineWidth = 1;
        ctx.strokeStyle = '#b82828'; ctx.strokeRect(x1 + 0.5, 25.5, x2 - x1 - 1, 13);
        ctx.strokeStyle = markColors[i]; ctx.strokeRect(x1 + 0.5, 38.5, x2 - x1 - 1, 13);
      } else if (markFilled[i]){
        ctx.fillStyle = markColors[i]; ctx.fillRect(x1, 38, x2 - x1, i === 3 ? 12 : 10);
      } else {
        ctx.strokeStyle = markColors[i]; ctx.lineWidth = 1; ctx.strokeRect(x1 + 0.5, 38.5, x2 - x1 - 1, 11);
      }
    });
    ctx.save(); ctx.beginPath(); ctx.rect(L, 0, R - L + 1, chart.height); ctx.clip();
    geneStarts.forEach((s, i) => {
      const e = geneEnds[i], lane = geneStrand[i] > 0 ? LAY.fwd : LAY.rev;
      const p1 = X(s), p2 = X(e);
      const c1 = Math.max(p1, L), c2 = Math.min(p2, R);
      const mid = (lane.headTop + lane.headBot) / 2;
      ctx.beginPath();
      if (geneStrand[i] > 0){
        const hasHead = p2 <= R;
        const hb = hasHead ? Math.max(c1, c2 - lane.head) : c2;
        ctx.moveTo(c1, lane.bodyTop + 0.5); ctx.lineTo(hb, lane.bodyTop + 0.5);
        if (hasHead){ ctx.lineTo(hb, lane.headTop + 0.5); ctx.lineTo(c2, mid); ctx.lineTo(hb, lane.headBot - 0.5); }
        ctx.lineTo(hb, lane.bodyBot - 0.5); ctx.lineTo(c1, lane.bodyBot - 0.5); ctx.closePath();
      } else {
        const hasHead = p1 >= L;
        const hb = hasHead ? Math.min(c2, c1 + lane.head) : c1;
        ctx.moveTo(c2, lane.bodyTop + 0.5); ctx.lineTo(hb, lane.bodyTop + 0.5);
        if (hasHead){ ctx.lineTo(hb, lane.headTop + 0.5); ctx.lineTo(c1, mid); ctx.lineTo(hb, lane.headBot - 0.5); }
        ctx.lineTo(hb, lane.bodyBot - 0.5); ctx.lineTo(c2, lane.bodyBot - 0.5); ctx.closePath();
      }
      ctx.fillStyle = geneFilled[i] ? '#000' : '#fff'; ctx.fill();
      ctx.strokeStyle = '#000'; ctx.lineWidth = 1; ctx.stroke();
      const tp = geneStrand[i] > 0 ? p1 : p2;
      if (tp >= L && tp <= R){ ctx.beginPath(); ctx.moveTo(px(tp), lane.tickTop); ctx.lineTo(px(tp), lane.tickBot); ctx.stroke(); }
    });
    ctx.restore();
    ctx.fillStyle = '#000'; ctx.textAlign = 'center';
    geneStarts.forEach((s, i) => {
      if (!geneNames[i]) return;
      const c1 = Math.max(X(s), L), c2 = Math.min(X(geneEnds[i]), R);
      ctx.fillText(geneNames[i], (c1 + c2) / 2, LAY.geneLabelBase[geneLabelRow[i]]);
    });
    ctx.save(); ctx.beginPath(); ctx.rect(L, 0, R - L + 1, chart.height); ctx.clip();
    boxStarts.forEach((s, i) => {
      const x1 = Math.round(Math.max(X(s), L)), x2 = Math.round(Math.min(X(boxEnds[i]), R));
      if (boxFills[i]){ ctx.fillStyle = boxFills[i]; ctx.fillRect(x1, LAY.boxTop, x2 - x1, LAY.boxBot - LAY.boxTop); }
      else { ctx.strokeStyle = '#0000ff'; ctx.lineWidth = 2; ctx.strokeRect(x1 + 1, LAY.boxTop + 1, x2 - x1 - 1, LAY.boxBot - LAY.boxTop - 1); }
    });
    ctx.restore();
    ctx.fillStyle = '#000'; ctx.textAlign = 'center';
    boxStarts.forEach((s, i) => {
      if (!boxLabels[i]) return;
      const x1 = Math.max(X(s), L), x2 = Math.min(X(boxEnds[i]), R);
      ctx.fillText(boxLabels[i], (x1 + x2) / 2, LAY.boxLabelBase);
    });
    ctx.strokeStyle = '#ff0000'; ctx.lineWidth = 1;
    { const x1 = Math.round(X(redBoxStart)), x2 = Math.round(X(redBoxEnd)); ctx.strokeRect(x1 + 0.5, LAY.redBoxTop + 0.5, x2 - x1, LAY.redBoxBot - LAY.redBoxTop); }
    redLineStarts.forEach((s, i) => { ctx.beginPath(); ctx.moveTo(X(s), LAY.redLineY + 0.5); ctx.lineTo(Math.min(X(redLineEnds[i]), R), LAY.redLineY + 0.5); ctx.stroke(); });
    ctx.strokeStyle = '#000'; ctx.lineWidth = 1.5;
    ctx.beginPath(); ctx.moveTo(L, LAY.baseY + 0.5); ctx.lineTo(R, LAY.baseY + 0.5); ctx.stroke();
    termStarts.forEach((s, i) => {
      const x1 = Math.round(X(s)), x2 = Math.round(X(termEnds[i]));
      ctx.fillStyle = '#ff0000'; ctx.fillRect(x1, LAY.termTop, x2 - x1, LAY.termBot - LAY.termTop);
      ctx.strokeStyle = '#ff0000'; ctx.lineWidth = 1;
      ctx.beginPath(); ctx.moveTo(x1 + 1.5, LAY.termBot); ctx.lineTo(x1 + 1.5, LAY.baseY); ctx.moveTo(x2 - 1.5, LAY.termBot); ctx.lineTo(x2 - 1.5, LAY.baseY); ctx.stroke();
    });
    ctx.fillStyle = '#000'; ctx.textAlign = 'center';
    termLabelPos.forEach((p, i) => ctx.fillText(termLabels[i], X(p), LAY.termLabelBase));
    flagPos.forEach((p, i) => {
      const x = Math.round(X(p));
      ctx.fillStyle = '#ff0000'; ctx.strokeStyle = '#ff0000'; ctx.lineWidth = 1;
      ctx.beginPath(); ctx.moveTo(x, LAY.flagTop); ctx.lineTo(x + LAY.flagTriW, LAY.flagTop); ctx.lineTo(x, LAY.flagTop + LAY.flagTriH); ctx.closePath(); ctx.fill();
      ctx.beginPath(); ctx.moveTo(x + 0.5, LAY.flagTop); ctx.lineTo(x + 0.5, LAY.flagPoleBot); ctx.stroke();
      ctx.strokeRect(x - 1.5, LAY.flagPoleBot + 0.5, 4, 4);
      ctx.fillStyle = '#000'; ctx.textAlign = 'left';
      ctx.fillText(flagLabels[i], x + 9, LAY.flagLabelBase);
    });
    ctx.restore();
  }
};
new Chart(mkCanvas(0, 380), {type:'line', data:{datasets:[]}, options:baseOptions(0, 1), plugins:[annotPlugin]});

// ================= LINE TRACKS =================
function lineTrack(yRef, pos, series, refLevels, refColor, refWidths){
  const top = yRef - 50, h = 120;
  const datasets = series.map(s => ({data:toPoints(pos, s.v), borderColor:s.c, borderWidth:s.w, order:s.o || 1, spanGaps:false, fill:false, pointRadius:0}));
  refLevels.forEach((lv, i) => datasets.push({data:toPoints(pos, pos.map(() => lv)), borderColor:refColor, borderWidth:refWidths ? refWidths[i] : 1, order:10, spanGaps:false, fill:false, pointRadius:0}));
  new Chart(mkCanvas(top, h), {type:'line', data:{datasets}, options:baseOptions(3.05, 15.05)});
}
const multiAvals = [multiA_s0,multiA_s1,multiA_s2,multiA_s3,multiA_s4,multiA_s5,multiA_s6,multiA_s7,multiA_s8,multiA_s9,multiA_s10,multiA_s11,multiA_s12,multiA_s13,multiA_s14,multiA_s15];
const multiBvals = [multiB_s0,multiB_s1,multiB_s2,multiB_s3,multiB_s4,multiB_s5,multiB_s6,multiB_s7,multiB_s8,multiB_s9,multiB_s10,multiB_s11,multiB_s12,multiB_s13,multiB_s14,multiB_s15];
lineTrack(478, multiPositions, multiAvals.map((v, i) => ({v, c:multiAColors[i], w:1.2})), multiARefLevels, '#000', [1.3, 1.3, 2]);
lineTrack(555, multiPositions, multiBvals.map((v, i) => ({v, c:multiBColors[i], w:1.2})), multiBRefLevels, '#000', [1.3, 1.3, 2]);

function pairTrack(yRef, k1, k2, c1, c2, color){
  lineTrack(yRef, positions, [
    {v:k1, c:COL.black, w:1.4, o:2}, {v:k2, c:COL.black, w:1, o:2},
    {v:c1, c:color, w:1.4, o:1}, {v:c2, c:color, w:1, o:1}
  ], colorRefLevels, COL.ref, [1, 1]);
}
pairTrack(630, greenA_k1, greenA_k2, greenA_c1, greenA_c2, COL.green);
pairTrack(708, greenB_k1, greenB_k2, greenB_c1, greenB_c2, COL.green);
pairTrack(888, blueA_k1, blueA_k2, blueA_c1, blueA_c2, COL.blue);
pairTrack(966, blueB_k1, blueB_k2, blueB_c1, blueB_c2, COL.blue);
pairTrack(1145, redA_k1, redA_k2, redA_c1, redA_c2, COL.red);
pairTrack(1222, redB_k1, redB_k2, redB_c1, redB_c2, COL.red);
pairTrack(1403, yellowA_k1, yellowA_k2, yellowA_c1, yellowA_c2, COL.yellow);
pairTrack(1480, yellowB_k1, yellowB_k2, yellowB_c1, yellowB_c2, COL.yellow);

// ================= BARS =================
const barLabelPlugin = {
  id:'barLabel',
  afterDraw(chart){
    const ctx = chart.ctx, xs = chart.scales.x, b = chart.chartArea.bottom;
    ctx.save(); ctx.font = FONT; ctx.fillStyle = '#000'; ctx.textAlign = 'center'; ctx.textBaseline = 'alphabetic';
    chart.data.datasets.forEach(ds => ds.data.forEach(d => ctx.fillText(barLabel, xs.getPixelForValue((d[0] + d[1]) / 2), b + 9)));
    ctx.restore();
  }
};
function barTrack(top, h, starts, ends, color){
  const opts = baseOptions(0, 1, 12);
  opts.indexAxis = 'y';
  opts.scales = {x:{type:'linear', min:viewStart, max:viewEnd, display:false}, y:{type:'category', display:false}};
  const datasets = starts.map((s, i) => ({data:[[s, ends[i]]], backgroundColor:color, borderWidth:0, barPercentage:1, categoryPercentage:1, grouped:false}));
  new Chart(mkCanvas(top, h + 12), {type:'bar', data:{labels:['bar'], datasets}, options:opts, plugins:[barLabelPlugin]});
}
barTrack(824, 12, greenBarStarts, greenBarEnds, '#009000');
barTrack(1082, 11, blueBarStarts, blueBarEnds, '#0028c8');
barTrack(1339, 12, redBarStarts, redBarEnds, '#bc0000');
</script></body></html>
